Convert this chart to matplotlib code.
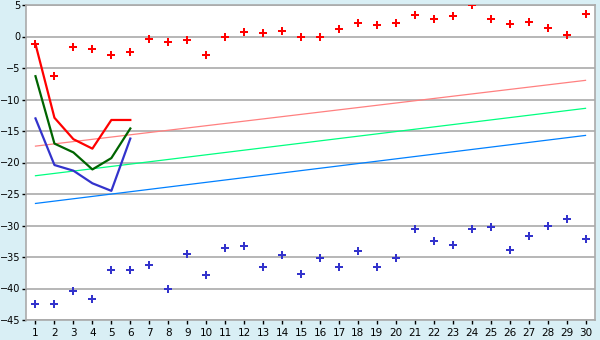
import matplotlib
matplotlib.use("Agg")
import matplotlib.pyplot as plt
import numpy as np

days = list(range(1, 31))

# scatter points
red_pts = [-1.2, -6.3, -1.7, -2.0, -3.0, -2.5, -0.45, -0.8, -0.6, -3.0,
           -0.1, 0.67, 0.5, 0.83, -0.13, -0.13, 1.14, 2.1, 1.78, 2.1,
           3.36, 2.7, 3.2, 4.95, 2.7, 1.93, 2.25, 1.3, 0.19, 3.52]
blue_pts = [-42.5, -42.5, -40.4, -41.7, -37.1, -37.1, -36.3, -40.1, -34.6, -37.9,
            -33.6, -33.3, -36.6, -34.7, -37.7, -35.2, -36.6, -34.1, -36.6, -35.2,
            -30.6, -32.5, -33.1, -30.6, -30.3, -33.9, -31.6, -30.1, -28.9, -32.2]

# short lines, days 1-6
line_days = [1, 2, 3, 4, 5, 6]
red_line = [-1.2, -12.9, -16.3, -17.8, -13.25, -13.25]
green_line = [-6.3, -17.0, -18.4, -21.1, -19.3, -14.6]
blue_line = [-13.0, -20.4, -21.3, -23.3, -24.5, -16.2]

# trend lines (start, end)
trend_days = [1, 30]
pink_trend = [-17.4, -6.96]
lgreen_trend = [-22.1, -11.4]
lblue_trend = [-26.5, -15.7]

yticks = [5, 0, -5, -10, -15, -20, -25, -30, -35, -40, -45]

fig = plt.figure(figsize=(6, 3.4), dpi=100)
fig.patch.set_facecolor("#d9eff5")
ax = fig.add_axes([26/600, 20/340, 569/600, 315/340])
ax.set_facecolor("white")

for y in yticks:
    ax.axhline(y, color="#aaaaaa", lw=1.2, zorder=1)

ax.plot(trend_days, pink_trend, color="#ff8080", lw=0.9, zorder=2)
ax.plot(trend_days, lgreen_trend, color="#00ff80", lw=0.9, zorder=2)
ax.plot(trend_days, lblue_trend, color="#0080ff", lw=0.9, zorder=2)

ax.plot(line_days, red_line, color="#ff0000", lw=1.6, zorder=3)
ax.plot(line_days, green_line, color="#006400", lw=1.6, zorder=3)
ax.plot(line_days, blue_line, color="#3333cc", lw=1.6, zorder=3)

ax.scatter(days, red_pts, marker="P", s=32, color="#ff0000", linewidths=0, zorder=4)
ax.scatter(days, blue_pts, marker="P", s=32, color="#3333cc", linewidths=0, zorder=4)

ax.set_xlim(0.5, 30.5)
ax.set_ylim(-45, 5)
ax.set_xticks(days)
ax.set_yticks(yticks)
ax.set_yticklabels(["\u2212" + str(-v) if v < 0 else str(v) for v in yticks])
ax.tick_params(axis="both", labelsize=7, color="black", length=3, width=1, pad=1)
ax.tick_params(axis="x", labelsize=7.5, pad=3)
for s in ax.spines.values():
    s.set_color("#aaaaaa")
    s.set_linewidth(1.2)

fig.savefig("out.png", dpi=100, facecolor=fig.get_facecolor())
